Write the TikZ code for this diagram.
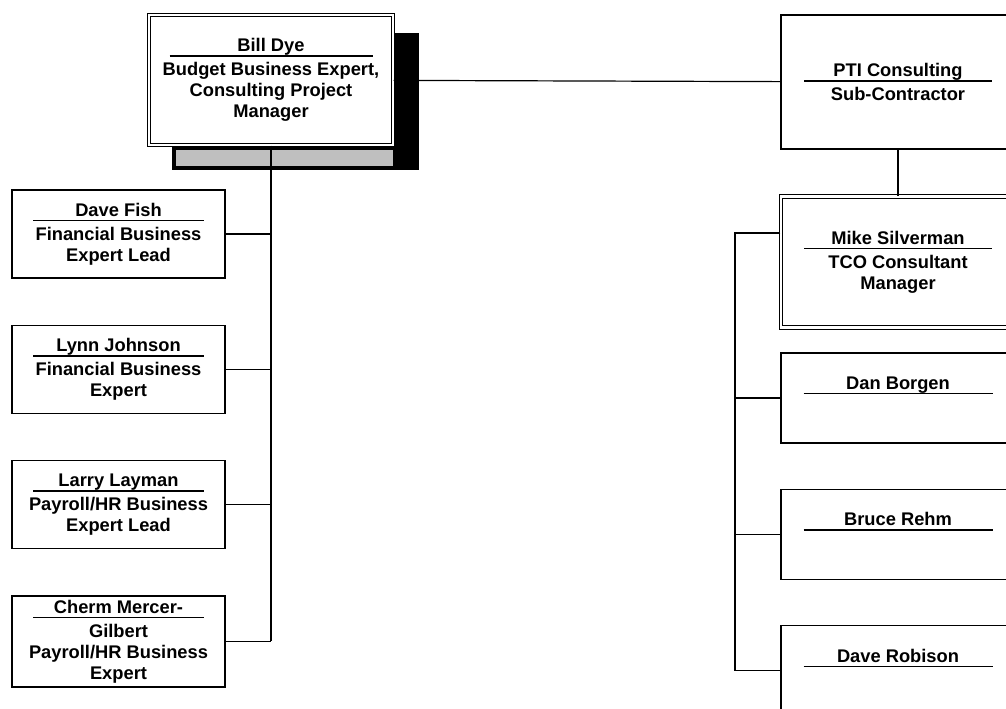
\documentclass[tikz,border=0pt]{standalone}
\usepackage{fontspec}
\setmainfont{Liberation Sans}
\usetikzlibrary{positioning}

% name line of a card, with the rule under it
\newcommand\cardname[2][171pt]{\makebox[0pt]{\rule[-5pt]{#1}{1.4pt}}\makebox[0pt]{#2}\\[3pt]}

\begin{document}
\begin{tikzpicture}[x=1pt,y=-1pt,
  card/.style={draw,line width=1.3pt,fill=white,align=center,inner sep=0pt,
    font=\fontsize{18.3}{21}\selectfont\bfseries},
  leftcard/.style={card,minimum width=213pt,minimum height=88pt},
  rightcard/.style={card,minimum width=234pt,minimum height=90pt},
  doubleline/.style={double,double distance=2.2pt,line width=1.1pt},
  link/.style={line width=1.2pt}]
\clip (0,0) rectangle (1006,709);
\fill[white] (0,0) rectangle (1006,709);

% shadow of the top card
\fill (172,33) rectangle (419,170);
\fill[gray!50] (176,150) rectangle (393,166);

\node[card,doubleline,minimum width=244pt,minimum height=130pt] (billdye) at (271,80)
  {\cardname[203pt]{Bill Dye}Budget Business Expert,\\Consulting Project\\Manager};

\node[leftcard] (fish) at (118.5,234) {\cardname{Dave Fish}Financial Business\\Expert Lead};
\node[leftcard,below=46pt of fish] (lynn) {\cardname{Lynn Johnson}Financial Business\\Expert};
\node[leftcard,below=46pt of lynn] (larry) {\cardname{Larry Layman}Payroll/HR Business\\Expert Lead};
\node[leftcard,below=46pt of larry,minimum height=91pt] (cherm)
  {\cardname{Cherm Mercer-}Gilbert\\Payroll/HR Business\\Expert};

\node[rightcard,minimum height=134pt] (pti) at (898,82) {\cardname[188pt]{PTI Consulting}Sub-Contractor};
\node[rightcard,doubleline,minimum height=131pt] (mike) at (898,262)
  {\cardname[188pt]{Mike Silverman}TCO Consultant\\Manager};
\node[rightcard] (dan) at (898,398) {\cardname[189pt]{Dan Borgen}\strut};
\node[rightcard,below=45pt of dan] (bruce) {\cardname[189pt]{Bruce Rehm}\strut};
\node[rightcard,below=45pt of bruce] (robison) {\cardname[189pt]{Dave Robison}\strut};

\coordinate (rbus) at (735,233);

\path[link]
(billdye) edge (pti)
(pti) edge (mike)
(billdye.south) edge (billdye.south |- cherm.east)
(fish.east) edge (fish.east -| billdye.south)
(lynn.east) edge (lynn.east -| billdye.south)
(larry.east) edge (larry.east -| billdye.south)
(cherm.east) edge (cherm.east -| billdye.south)
;
\draw[link] (rbus -| mike.west) -- (rbus) |- (robison.west);
\path[link]
(dan.west) edge (dan.west -| rbus)
(bruce.west) edge (bruce.west -| rbus)
;
\end{tikzpicture}
\end{document}
